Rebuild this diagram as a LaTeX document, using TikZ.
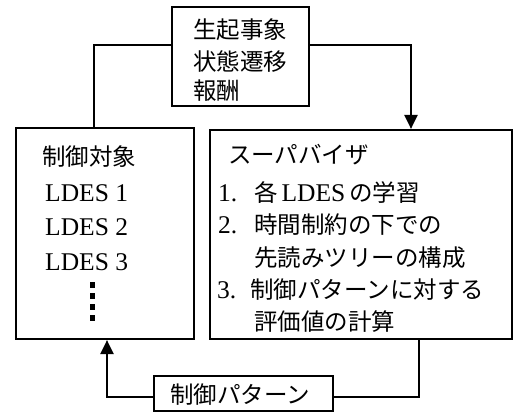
\documentclass[tikz,border=0pt]{standalone}
\usepackage{fontspec}
\usetikzlibrary{arrows.meta}
\setmainfont{Liberation Serif}
\newfontfamily\cjk{Noto Sans CJK JP}
\begin{document}
\begin{tikzpicture}[x=1pt,y=-1pt,
  box/.style={draw,line width=2.2pt,inner sep=0pt},
  conn/.style={line width=2.2pt},
  arr/.style={conn,-{Triangle[length=14pt,width=13pt]}},
  jp/.style={font=\cjk\fontsize{23.5}{23.5}\selectfont,anchor=west,inner sep=0pt},
  lat/.style={font=\fontsize{25.5}{25.5}\selectfont,anchor=west,inner sep=0pt},
  dotsq/.style={fill=black,draw=none,minimum width=5pt,minimum height=6pt,inner sep=0pt}]
\useasboundingbox (0,0) rectangle (515,413);
\node[box,minimum width=137pt,minimum height=99pt] (top) at (240.5,56.5) {};
\node[box,minimum width=178pt,minimum height=211pt] (left) at (105,233.5) {};
\node[box,minimum width=302pt,minimum height=209pt] (right) at (361,234.5) {};
\node[box,minimum width=179pt,minimum height=35pt] (bot) at (243.5,393.5) {};
% top text
\node[jp] (t1) at (193,30) {生起事象};
\node[jp] (t2) at (193,62) {状態遷移};
\node[jp] (t3) at (193,91) {報酬};
% left text
\node[jp] (l0) at (42,157) {制御対象};
\node[lat] (l1) at (45,193) {LDES 1};
\node[lat] (l2) at (45,227) {LDES 2};
\node[lat] (l3) at (45,262) {LDES 3};
\node[dotsq] (d1) at (92,285) {};
\node[dotsq] (d2) at (92,296) {};
\node[dotsq] (d3) at (92,307) {};
\node[dotsq] (d4) at (92,318) {};
% right text
\node[jp] (r0) at (228,155) {スーパバイザ};
\node[lat] (n1) at (218,193) {1.};
\node[jp] (r1) at (254,193) {各\,{\fontspec{Liberation Serif}\fontsize{25.5}{25.5}\selectfont LDES}\,の学習};
\node[lat] (n2) at (218,225) {2.};
\node[jp] (r2) at (254,225) {時間制約の下での};
\node[jp] (r3) at (254,258) {先読みツリーの構成};
\node[lat] (n3) at (217,290) {3.};
\node[jp] (r4) at (250,290) {制御パターンに対する};
\node[jp] (r5) at (254,322) {評価値の計算};
% bottom text
\node[jp] (b0) at (170,395) {制御パターン};
% connectors
\draw[conn] (top.west |- 0,45) -| (left.north -| 94,0);
\draw[arr] (top.east |- 0,45) -| (right.north -| 411,0);
\draw[conn] (right.south -| 419,0) |- (bot.east |- 0,397);
\draw[arr] (bot.west |- 0,397) -| (left.south -| 107,0);
\end{tikzpicture}
\end{document}
